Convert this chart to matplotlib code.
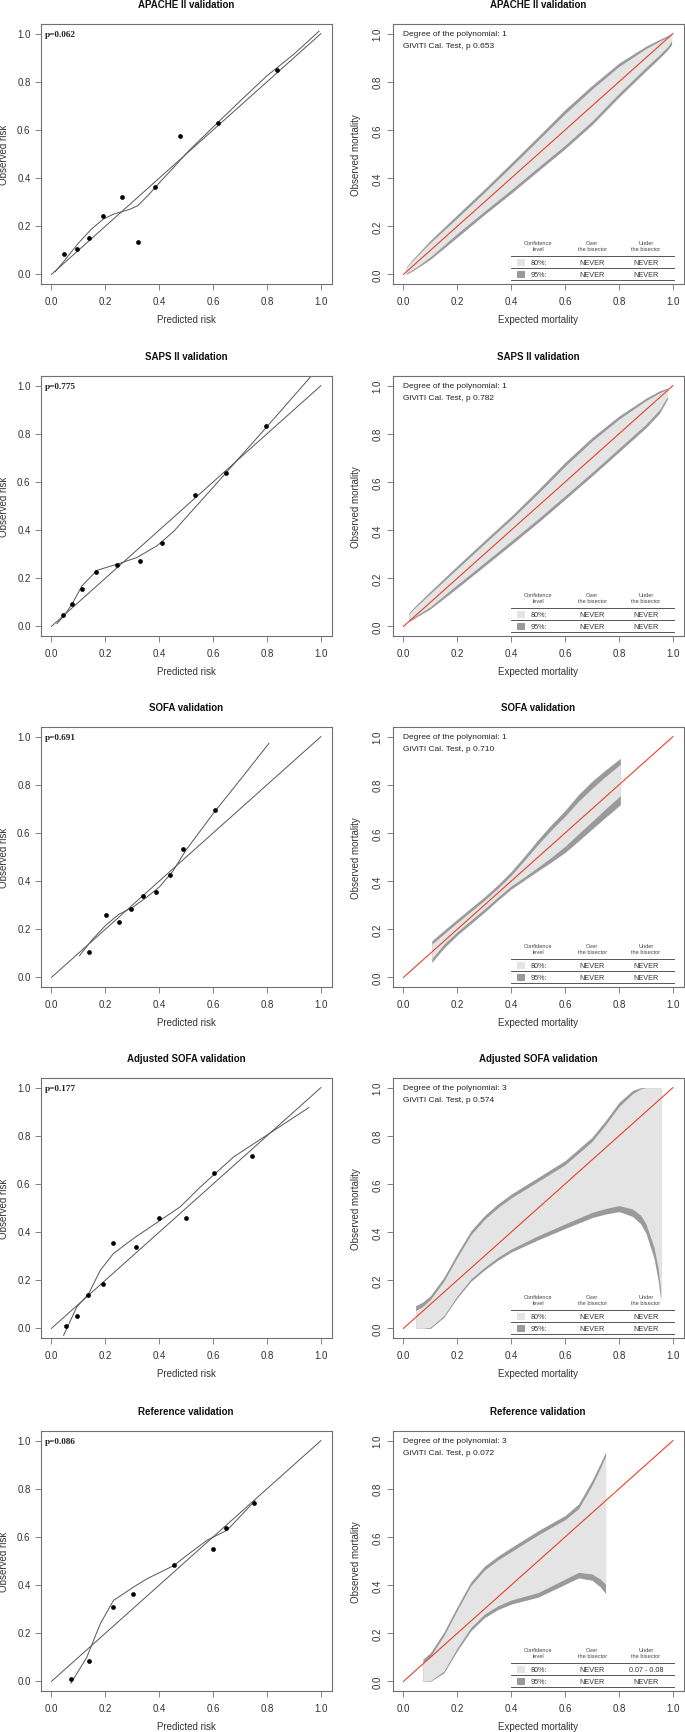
import numpy as np
import matplotlib.pyplot as plt

W, H = 685, 1733
plt.rcParams['font.family'] = ['Liberation Sans', 'DejaVu Sans']

titles = ["APACHE II validation", "SAPS II validation", "SOFA validation",
          "Adjusted SOFA validation", "Reference validation"]
p_left = ["p=0.062", "p=0.775", "p=0.691", "p=0.177", "p=0.086"]
degrees = [1, 1, 1, 3, 3]
p_givitti = ["0.653", "0.782", "0.710", "0.574", "0.072"]
under80 = ["NEVER", "NEVER", "NEVER", "NEVER", "0.07 - 0.08"]

# ---- left panels: grouped points and smoothed curve ----
apache_px = [0.045, 0.094, 0.140, 0.193, 0.260, 0.321, 0.385, 0.478, 0.617, 0.838]
apache_py = [0.085, 0.105, 0.150, 0.241, 0.323, 0.133, 0.361, 0.576, 0.629, 0.848]
apache_cx = [0.014, 0.05, 0.10, 0.15, 0.193, 0.23, 0.26, 0.29, 0.32, 0.36, 0.40, 0.45, 0.51, 0.60, 0.70, 0.80, 0.90, 0.993]
apache_cy = [0.011, 0.06, 0.13, 0.19, 0.23, 0.25, 0.26, 0.27, 0.285, 0.33, 0.38, 0.44, 0.514, 0.612, 0.72, 0.825, 0.915, 1.01]

saps_px = [0.043, 0.078, 0.112, 0.167, 0.244, 0.330, 0.410, 0.533, 0.646, 0.798]
saps_py = [0.047, 0.093, 0.157, 0.227, 0.257, 0.272, 0.348, 0.545, 0.638, 0.831]
saps_cx = [0.02, 0.05, 0.076, 0.113, 0.169, 0.243, 0.317, 0.392, 0.454, 0.528, 0.602, 0.677, 0.80, 0.98]
saps_cy = [0.011, 0.05, 0.092, 0.168, 0.233, 0.258, 0.286, 0.335, 0.395, 0.488, 0.58, 0.675, 0.83, 1.06]

sofa_px = [0.141, 0.201, 0.252, 0.294, 0.340, 0.387, 0.439, 0.489, 0.607]
sofa_py = [0.106, 0.260, 0.229, 0.285, 0.338, 0.354, 0.424, 0.533, 0.694]
sofa_cx = [0.104, 0.15, 0.2, 0.25, 0.3, 0.35, 0.4, 0.45, 0.5, 0.55, 0.6, 0.7, 0.807]
sofa_cy = [0.09, 0.155, 0.215, 0.262, 0.29, 0.33, 0.375, 0.44, 0.53, 0.605, 0.68, 0.82, 0.972]

adj_px = [0.0545, 0.095, 0.135, 0.190, 0.230, 0.313, 0.400, 0.498, 0.605, 0.745]
adj_py = [0.011, 0.050, 0.140, 0.186, 0.354, 0.337, 0.460, 0.460, 0.645, 0.714]
adj_cx = [0.045, 0.094, 0.138, 0.181, 0.23, 0.305, 0.404, 0.478, 0.553, 0.677, 0.955]
adj_cy = [-0.029, 0.089, 0.144, 0.241, 0.311, 0.374, 0.449, 0.505, 0.588, 0.713, 0.917]

ref_px = [0.074, 0.139, 0.230, 0.304, 0.456, 0.600, 0.646, 0.752]
ref_py = [0.010, 0.085, 0.311, 0.364, 0.483, 0.551, 0.639, 0.740]
ref_cx = [0.072, 0.131, 0.181, 0.23, 0.305, 0.354, 0.454, 0.503, 0.577, 0.652, 0.755]
ref_cy = [-0.008, 0.1, 0.239, 0.336, 0.392, 0.426, 0.481, 0.524, 0.586, 0.628, 0.75]

# ---- right panels: calibration belts (95% outer, 80% inner) ----
ap_bx = [0.01, 0.03, 0.05, 0.1, 0.2, 0.3, 0.4, 0.5, 0.6, 0.7, 0.8, 0.9, 0.95, 0.98, 0.995]
ap_hi95 = [0.03, 0.058, 0.082, 0.142, 0.248, 0.354, 0.463, 0.573, 0.685, 0.785, 0.878, 0.948, 0.976, 0.992, 1.0]
ap_hi80 = [0.027, 0.053, 0.076, 0.132, 0.235, 0.34, 0.448, 0.558, 0.668, 0.77, 0.864, 0.938, 0.968, 0.986, 0.997]
ap_lo80 = [0.005, 0.018, 0.032, 0.073, 0.17, 0.262, 0.352, 0.445, 0.537, 0.637, 0.752, 0.86, 0.912, 0.945, 0.97]
ap_lo95 = [0.0, 0.012, 0.026, 0.063, 0.155, 0.248, 0.337, 0.43, 0.522, 0.622, 0.737, 0.845, 0.898, 0.932, 0.955]

sa_bx = [0.02, 0.035, 0.05, 0.1, 0.2, 0.3, 0.4, 0.5, 0.6, 0.7, 0.8, 0.9, 0.95, 0.98]
sa_hi95 = [0.055, 0.075, 0.092, 0.146, 0.252, 0.356, 0.458, 0.568, 0.682, 0.785, 0.874, 0.948, 0.978, 0.99]
sa_hi80 = [0.05, 0.069, 0.085, 0.137, 0.24, 0.343, 0.445, 0.553, 0.666, 0.77, 0.861, 0.938, 0.97, 0.985]
sa_lo80 = [0.025, 0.036, 0.047, 0.082, 0.174, 0.264, 0.355, 0.447, 0.543, 0.64, 0.74, 0.84, 0.9, 0.955]
sa_lo95 = [0.02, 0.03, 0.04, 0.073, 0.16, 0.25, 0.34, 0.432, 0.528, 0.625, 0.725, 0.825, 0.885, 0.945]

so_bx = [0.105, 0.15, 0.2, 0.25, 0.3, 0.35, 0.4, 0.45, 0.5, 0.55, 0.6, 0.65, 0.7, 0.75, 0.805]
so_hi95 = [0.152, 0.195, 0.242, 0.288, 0.334, 0.384, 0.44, 0.505, 0.573, 0.636, 0.694, 0.76, 0.815, 0.862, 0.91]
so_hi80 = [0.138, 0.181, 0.228, 0.274, 0.32, 0.37, 0.424, 0.488, 0.553, 0.614, 0.67, 0.732, 0.785, 0.835, 0.885]
so_lo80 = [0.077, 0.138, 0.19, 0.237, 0.284, 0.333, 0.38, 0.418, 0.458, 0.5, 0.545, 0.597, 0.648, 0.7, 0.755]
so_lo95 = [0.062, 0.122, 0.176, 0.223, 0.27, 0.32, 0.367, 0.405, 0.443, 0.48, 0.519, 0.567, 0.616, 0.665, 0.717]

ad_bx = [0.045, 0.07, 0.1, 0.15, 0.2, 0.25, 0.3, 0.35, 0.4, 0.5, 0.6, 0.7, 0.75, 0.8, 0.85, 0.88, 0.9, 0.93, 0.945, 0.955]
ad_hi95 = [0.094, 0.108, 0.136, 0.212, 0.312, 0.405, 0.468, 0.517, 0.558, 0.627, 0.697, 0.794, 0.863, 0.939, 0.988, 1.0, 1.0, 1.0, 1.0, 1.0]
ad_hi80 = [0.074, 0.09, 0.12, 0.196, 0.296, 0.389, 0.452, 0.501, 0.542, 0.611, 0.68, 0.777, 0.846, 0.922, 0.975, 0.995, 1.0, 1.0, 1.0, 1.0]
ad_lo80 = [0.0, 0.0, 0.005, 0.053, 0.136, 0.205, 0.253, 0.295, 0.33, 0.385, 0.434, 0.482, 0.498, 0.51, 0.496, 0.47, 0.434, 0.336, 0.25, 0.15]
ad_lo95 = [0.0, 0.0, 0.0, 0.046, 0.127, 0.195, 0.242, 0.283, 0.317, 0.368, 0.415, 0.46, 0.475, 0.485, 0.465, 0.435, 0.395, 0.29, 0.2, 0.115]

re_bx = [0.072, 0.1, 0.15, 0.2, 0.25, 0.3, 0.35, 0.4, 0.5, 0.6, 0.65, 0.7, 0.73, 0.75]
re_hi95 = [0.092, 0.119, 0.205, 0.312, 0.413, 0.478, 0.52, 0.556, 0.626, 0.689, 0.737, 0.835, 0.904, 0.953]
re_hi80 = [0.078, 0.104, 0.19, 0.297, 0.398, 0.462, 0.504, 0.539, 0.609, 0.672, 0.718, 0.815, 0.885, 0.935]
re_lo80 = [0.0, 0.003, 0.043, 0.14, 0.224, 0.279, 0.314, 0.338, 0.369, 0.425, 0.453, 0.446, 0.425, 0.404]
re_lo95 = [0.0, 0.0, 0.035, 0.128, 0.21, 0.264, 0.298, 0.321, 0.35, 0.403, 0.43, 0.42, 0.393, 0.365]

left_data = [(apache_px, apache_py, apache_cx, apache_cy),
             (saps_px, saps_py, saps_cx, saps_cy),
             (sofa_px, sofa_py, sofa_cx, sofa_cy),
             (adj_px, adj_py, adj_cx, adj_cy),
             (ref_px, ref_py, ref_cx, ref_cy)]
belt_data = [(ap_bx, ap_lo95, ap_lo80, ap_hi80, ap_hi95),
             (sa_bx, sa_lo95, sa_lo80, sa_hi80, sa_hi95),
             (so_bx, so_lo95, so_lo80, so_hi80, so_hi95),
             (ad_bx, ad_lo95, ad_lo80, ad_hi80, ad_hi95),
             (re_bx, re_lo95, re_lo80, re_hi80, re_hi95)]

row_tops = [25, 377, 728, 1079, 1432]
ax_h, ax_w = 260, 291
frame = '#707070'
dark = '#9a9a9a'
light = '#e4e4e4'
ticks = [0, 0.2, 0.4, 0.6, 0.8, 1.0]
ticklab = ["0.0", "0.2", "0.4", "0.6", "0.8", "1.0"]

fig = plt.figure(figsize=(W / 100, H / 100), dpi=100)


def base_axes(x0, top, title, xlabel, ylabel, rot):
    ax = fig.add_axes([x0 / W, 1 - (top + ax_h) / H, ax_w / W, ax_h / H])
    ax.set_xlim(-0.04, 1.04)
    ax.set_ylim(-0.04, 1.04)
    ax.set_xticks(ticks, ticklab, fontsize=7, color='#333333')
    ax.set_yticks(ticks, ticklab, fontsize=7, color='#333333', rotation=rot, va='center')
    ax.tick_params(length=4.3, width=0.6, color=frame)
    ax.tick_params(axis='x', pad=4.5)
    ax.tick_params(axis='y', pad=3)
    for s in ax.spines.values():
        s.set_color(frame)
        s.set_linewidth(0.8)
    ax.text(0.5, 1 + 20 / ax_h, title, transform=ax.transAxes, ha='center',
            va='center', fontsize=7, fontweight='bold', color='#111111')
    ax.text(0.5, -35 / ax_h, xlabel, transform=ax.transAxes, ha='center',
            va='center', fontsize=7, color='#333333')
    ax.text(-37 / ax_w, 0.5, ylabel, transform=ax.transAxes, ha='center',
            va='center', fontsize=7, color='#333333', rotation=90)
    return ax


for i in range(5):
    top = row_tops[i]
    # left: calibration plot
    px, py, cx, cy = left_data[i]
    ax = base_axes(40.7, top, titles[i], "Predicted risk", "Observed risk", 0)
    ax.plot([0, 1], [0, 1], color='#555555', lw=0.7)
    ax.plot(cx, cy, color='#555555', lw=0.7)
    ax.plot(px, py, 'o', color='black', ms=3.4, mew=0)
    ax.text(-0.025, 1.0, p_left[i], fontsize=6.6, fontweight='bold',
            family='Liberation Serif', ha='left', va='center', color='#222222')

    # right: GiViTI calibration belt
    bx, lo95, lo80, hi80, hi95 = belt_data[i]
    ax = base_axes(392.7, top, titles[i], "Expected mortality", "Observed mortality", 90)
    ax.fill_between(bx, lo95, hi95, color=dark, lw=0)
    ax.fill_between(bx, lo80, hi80, color=light, lw=0)
    ax.plot([0, 1], [0, 1], color='#e8412c', lw=0.8)
    ax.text(0.0, 1.0, "Degree of the polynomial: %d" % degrees[i], fontsize=6,
            ha='left', va='center', color='#222222')
    ax.text(0.0, 0.95, "GiViTI Cal. Test, p " + p_givitti[i], fontsize=6,
            ha='left', va='center', color='#222222')
    # belt legend table
    for yl in [0.075, 0.025, -0.025]:
        ax.plot([0.40, 1.003], [yl, yl], color='#555555', lw=0.7)
    ax.text(0.50, 0.119, "Confidence\nlevel", fontsize=4.1, ha='center', va='center',
            color='#444444', linespacing=1.3)
    ax.text(0.70, 0.119, "Over\nthe bisector", fontsize=4.1, ha='center', va='center',
            color='#444444', linespacing=1.3)
    ax.text(0.90, 0.119, "Under\nthe bisector", fontsize=4.1, ha='center', va='center',
            color='#444444', linespacing=1.3)
    for yr, col, lab, under in [(0.05, light, "80%:", under80[i]), (0.0, dark, "95%:", "NEVER")]:
        ax.add_patch(plt.Rectangle((0.42, yr - 0.014), 0.03, 0.028, color=col, lw=0))
        ax.text(0.473, yr, lab, fontsize=5.2, ha='left', va='center', color='#333333')
        ax.text(0.70, yr, "NEVER", fontsize=5.2, ha='center', va='center', color='#333333')
        ax.text(0.90, yr, under, fontsize=5.2, ha='center', va='center', color='#333333')

fig.savefig("out.png", dpi=100)
